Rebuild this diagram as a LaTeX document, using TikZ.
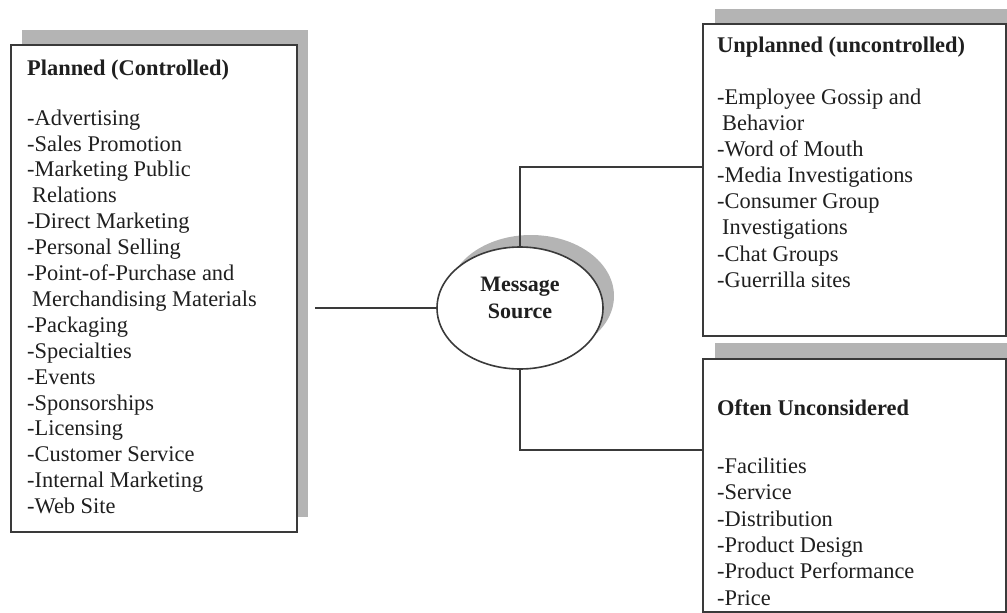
\documentclass[tikz,border=0pt]{standalone}
\usepackage{fontspec}
\setmainfont{Liberation Serif}
\usetikzlibrary{shapes.geometric}
\definecolor{shadowgray}{HTML}{B4B4B4}
\definecolor{edgegray}{HTML}{3A3A3A}
\begin{document}
\begin{tikzpicture}[x=1pt,y=-1pt,
  frame/.style={draw=edgegray, line width=1.8pt, fill=white, inner sep=0pt, anchor=north west},
  shade/.style={fill=shadowgray},
  boxtext/.style={anchor=north west, inner sep=0pt, align=left, text=black!88},
  conn/.style={draw=edgegray, line width=1.6pt},
]
\useasboundingbox (0,0) rectangle (1007,613);
\clip (0,0) rectangle (1007,613);
% ---- left box
\fill[shade] (22,30) rectangle (308,517);
\node[frame, minimum width=286pt, minimum height=487pt] (lbox) at (10,44) {};
\node[boxtext, font=\fontsize{22.4}{25.9}\selectfont] (ltext) at (27,59.5) {%
\textbf{Planned (Controlled)}\\[24pt]
-Advertising\\
-Sales Promotion\\
-Marketing Public\\
\hspace*{5pt}Relations\\
-Direct Marketing\\
-Personal Selling\\
-Point-of-Purchase and\\
\hspace*{5pt}Merchandising Materials\\
-Packaging\\
-Specialties\\
-Events\\
-Sponsorships\\
-Licensing\\
-Customer Service\\
-Internal Marketing\\
-Web Site};
% ---- upper right box
\fill[shade] (715,9) rectangle (1020,321);
\node[frame, minimum width=303pt, minimum height=312pt] (ubox) at (702,23) {};
\node[boxtext, font=\fontsize{22.4}{26.1}\selectfont] (utext) at (717,36.5) {%
\textbf{Unplanned (uncontrolled)}\\[26.1pt]
-Employee Gossip and\\
\hspace*{5pt}Behavior\\
-Word of Mouth\\
-Media Investigations\\
-Consumer Group\\
\hspace*{5pt}Investigations\\
-Chat Groups\\
-Guerrilla sites};
% ---- lower right box
\fill[shade] (715,343) rectangle (1020,640);
\node[frame, minimum width=303pt, minimum height=253pt] (obox) at (702,358) {};
\node[boxtext, font=\fontsize{22.4}{26.4}\selectfont] (otext) at (717,400) {%
\textbf{Often Unconsidered}\\[31pt]
-Facilities\\
-Service\\
-Distribution\\
-Product Design\\
-Product Performance\\
-Price};
% ---- message source
\fill[shade] (531,296) ellipse [x radius=83, y radius=61];
\node[ellipse, draw=edgegray, line width=1.6pt, fill=white, minimum width=166pt, minimum height=122pt, inner sep=0pt] (ms) at (520,308) {};
\node[align=center, inner sep=0pt, text=black!88, font=\bfseries\fontsize{22}{27}\selectfont] (mslabel) at (520,298) {Message\\Source};
% ---- connectors
\coordinate (lend) at (315,308);
\coordinate (ujoin) at (702,167);
\coordinate (ojoin) at (702,450);
\draw[conn] (lend) -- (ms.west);
\draw[conn] (ms.north) |- (ujoin);
\draw[conn] (ms.south) |- (ojoin);
\end{tikzpicture}
\end{document}
